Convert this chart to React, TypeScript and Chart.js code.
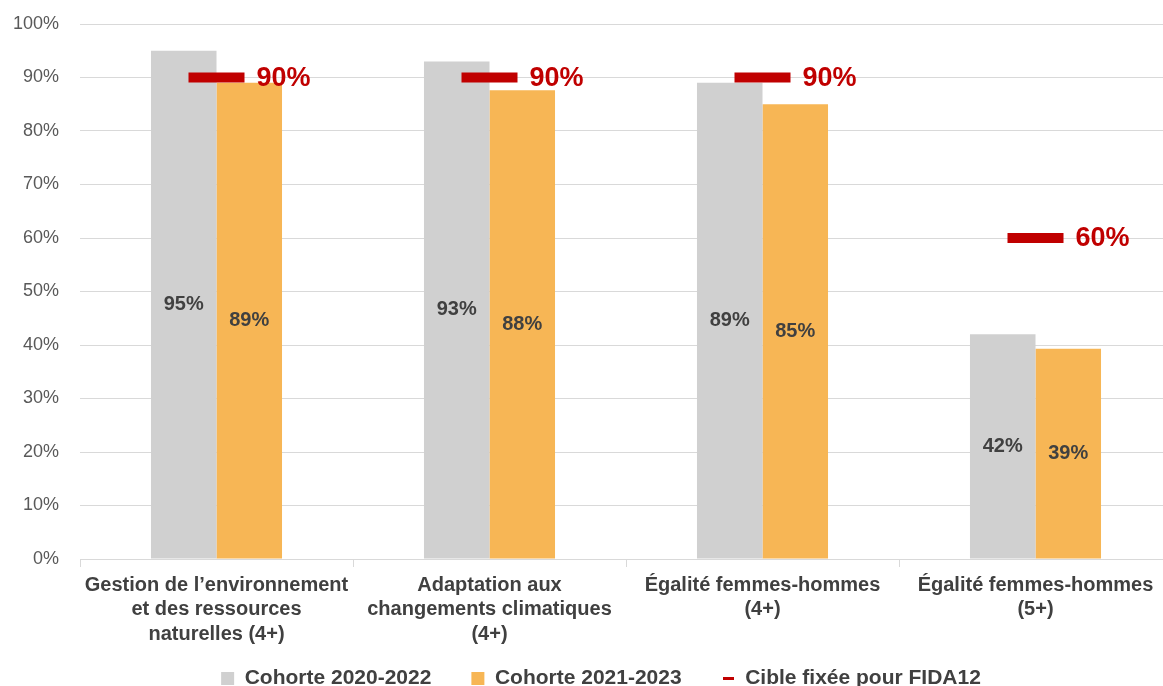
import React, { useEffect, useRef } from 'react';
import { Chart, registerables } from 'chart.js';

Chart.register(...registerables);

const categories: string[][] = [
  ['Gestion de l’environnement', 'et des ressources', 'naturelles (4+)'],
  ['Adaptation aux', 'changements climatiques', '(4+)'],
  ['Égalité femmes-hommes', '(4+)'],
  ['Égalité femmes-hommes', '(5+)'],
];
const cohort2020 = [95, 93, 89, 42];
const cohort2021 = [89, 87.6, 85, 39.3];
const targets = [90, 90, 90, 60];
const seriesNames = ['Cohorte 2020-2022', 'Cohorte 2021-2023', 'Cible fixée pour FIDA12'];

const GRAY = '#d0d0d0';
const ORANGE = '#f7b655';
const RED = '#c00000';
const TEXT = '#404040';
const FONT = "'Liberation Sans', Arial, sans-serif";

export default function App() {
  const ref = useRef<HTMLCanvasElement | null>(null);

  useEffect(() => {
    if (!ref.current) return;

    const legendLine = document.createElement('canvas');
    legendLine.width = 11;
    legendLine.height = 3;
    const lctx = legendLine.getContext('2d')!;
    lctx.fillStyle = RED;
    lctx.fillRect(0, 0, 11, 3);

    const labelPlugin = {
      id: 'valueLabels',
      afterDatasetsDraw(chart: any) {
        const ctx = chart.ctx;
        ctx.save();
        chart.data.datasets.forEach((ds: any, i: number) => {
          const meta = chart.getDatasetMeta(i);
          meta.data.forEach((el: any, j: number) => {
            const v = ds.data[j] as number;
            if (meta.type === 'bar') {
              const p = el.getProps(['x', 'y', 'base'], true);
              ctx.font = `bold 20px ${FONT}`;
              ctx.fillStyle = TEXT;
              ctx.textAlign = 'center';
              ctx.textBaseline = 'middle';
              ctx.fillText(Math.round(v) + '%', p.x, (p.y + p.base) / 2);
            } else {
              ctx.font = `bold 27px ${FONT}`;
              ctx.fillStyle = RED;
              ctx.textAlign = 'left';
              ctx.textBaseline = 'middle';
              ctx.fillText(Math.round(v) + '%', el.x + 40, el.y + 1);
            }
          });
        });
        ctx.restore();
      },
    };

    // nudges the legend row into place under the wrapped category labels
    const legendShift = {
      id: 'legendShift',
      afterLayout(chart: any) {
        const lg = chart.legend;
        if (!lg) return;
        const dy = -26;
        const dx = 15;
        lg.top += dy;
        lg.bottom += dy;
        lg.left += dx;
        lg.right += dx;
      },
    };

    const chart = new Chart(ref.current, {
      type: 'bar',
      data: {
        labels: categories as any,
        datasets: [
          {
            type: 'bar',
            label: seriesNames[0],
            data: cohort2020,
            backgroundColor: GRAY,
            categoryPercentage: 0.48,
            barPercentage: 1,
            order: 1,
          },
          {
            type: 'bar',
            label: seriesNames[1],
            data: cohort2021,
            backgroundColor: ORANGE,
            categoryPercentage: 0.48,
            barPercentage: 1,
            order: 1,
          },
          {
            type: 'line',
            label: seriesNames[2],
            data: targets,
            showLine: false,
            pointStyle: 'line',
            pointRadius: 28,
            pointHoverRadius: 28,
            pointBorderWidth: 10,
            pointBorderColor: RED,
            pointBackgroundColor: RED,
            borderColor: RED,
            clip: false,
            order: 0,
          } as any,
        ],
      },
      options: {
        responsive: false,
        animation: false,
        events: [],
        layout: { autoPadding: false, padding: { top: 24, right: 4, bottom: 0, left: 0 } },
        scales: {
          x: {
            offset: true,
            grid: {
              offset: true,
              drawOnChartArea: false,
              drawTicks: true,
              tickLength: 8,
              color: '#d9d9d9',
            },
            border: { display: true, color: '#d9d9d9', width: 1 },
            ticks: {
              padding: 6,
              color: TEXT,
              font: { family: FONT, size: 20, weight: 'bold', lineHeight: 1.22 },
              maxRotation: 0,
              autoSkip: false,
            },
            afterFit: (s: any) => {
              s.height = 95;
              s.paddingLeft = 0;
              s.paddingRight = 0;
              s.paddingTop = 0;
              s.paddingBottom = 0;
            },
          },
          y: {
            min: 0,
            max: 100,
            ticks: {
              stepSize: 10,
              padding: 21,
              color: '#595959',
              font: { family: FONT, size: 18 },
              callback: (v: any) => v + '%',
            },
            grid: { color: '#d9d9d9', drawTicks: false, lineWidth: 1 },
            border: { display: false },
            afterFit: (s: any) => {
              s.width = 80;
              s.paddingLeft = 0;
              s.paddingRight = 0;
              s.paddingTop = 0;
              s.paddingBottom = 0;
            },
          },
        },
        plugins: {
          tooltip: { enabled: false },
          legend: {
            position: 'bottom',
            labels: {
              usePointStyle: true,
              boxWidth: 13,
              boxHeight: 13,
              padding: 40,
              color: TEXT,
              font: { family: FONT, size: 21, weight: 'bold' },
              generateLabels: () => [
                {
                  text: seriesNames[0],
                  fillStyle: GRAY,
                  strokeStyle: GRAY,
                  lineWidth: 0,
                  pointStyle: 'rect',
                  hidden: false,
                  datasetIndex: 0,
                  fontColor: TEXT,
                } as any,
                {
                  text: seriesNames[1],
                  fillStyle: ORANGE,
                  strokeStyle: ORANGE,
                  lineWidth: 0,
                  pointStyle: 'rect',
                  hidden: false,
                  datasetIndex: 1,
                  fontColor: TEXT,
                } as any,
                {
                  text: seriesNames[2],
                  fillStyle: RED,
                  strokeStyle: RED,
                  lineWidth: 0,
                  pointStyle: legendLine,
                  hidden: false,
                  datasetIndex: 2,
                  fontColor: TEXT,
                } as any,
              ],
            },
          },
        },
      },
      plugins: [labelPlugin, legendShift],
    });

    return () => chart.destroy();
  }, []);

  return (
    <div
      style={{
        position: 'absolute',
        left: 0,
        top: 0,
        width: 1163,
        height: 686,
        overflow: 'hidden',
        background: '#fff',
      }}
    >
      <canvas ref={ref} width={1176} height={725} />
    </div>
  );
}
